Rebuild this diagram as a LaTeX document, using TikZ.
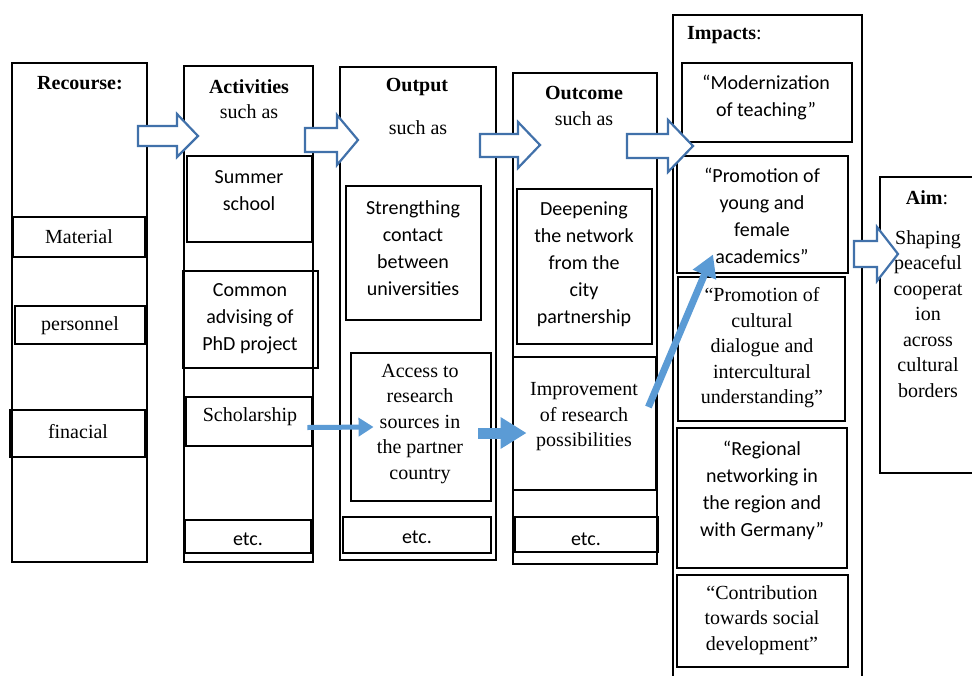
\documentclass[tikz,border=0pt]{standalone}
\usepackage{fontspec}
\setmainfont{Liberation Serif}
\newfontfamily\calibri{Carlito}
\usetikzlibrary{arrows.meta,fit}
\definecolor{arrowedge}{RGB}{65,113,170}
\definecolor{arrowfill}{RGB}{91,155,213}
\begin{document}
\begin{tikzpicture}[x=1pt,y=-1pt,
  colbox/.style={draw, line width=2.3pt, inner sep=0pt},
  inbox/.style={draw, line width=2.9pt, inner sep=0pt},
  serif/.style={font=\fontsize{20}{25.5}\selectfont, align=center, inner sep=0pt},
  sans/.style={font=\calibri\fontsize{20}{27}\selectfont, align=center, inner sep=0pt},
  head/.style={font=\bfseries\fontsize{20}{25.5}\selectfont, inner sep=0pt},
  hollow/.style={draw=arrowedge, line width=2.2pt, fill=white, line join=miter},
  solidarrow/.style={draw=arrowfill},
]
\fill[white] (0,0) rectangle (972,675);
\useasboundingbox (0,0) rectangle (972,675);

% column boxes
\node[colbox, fit={(12,63) (147,562)}] (rec) {};
\node[colbox, fit={(184,66) (313,562)}] (act) {};
\node[colbox, fit={(340,67) (496,560)}] (out) {};
\node[colbox, fit={(513,73) (657,564)}] (otc) {};
\node[colbox, fit={(673,15) (862,690)}] (ipc) {};
\node[colbox, fit={(880,177) (985,473)}] (aim) {};

% inner boxes
\node[inbox, fit={(13,217) (145,257)}] (mat) {};
\node[inbox, fit={(15,306) (145,344)}] (per) {};
\node[inbox, fit={(10,410) (145,457)}] (fin) {};
\node[inbox, fit={(187,156) (312,242)}] (sum) {};
\node[inbox, fit={(183,271) (318,368)}] (com) {};
\node[inbox, fit={(186,397) (312,446)}] (sch) {};
\node[inbox, fit={(185,520) (311,553)}] (aetc) {};
\node[inbox, fit={(346,186) (481,320)}] (str) {};
\node[inbox, fit={(351,353) (491,501)}] (acc) {};
\node[inbox, fit={(343,517) (491,553)}] (oetc) {};
\node[inbox, fit={(517,189) (652,344)}] (dee) {};
\node[inbox, fit={(513,357) (656,490)}] (imp) {};
\node[inbox, fit={(515,517) (658,552)}] (cetc) {};
\node[inbox, fit={(682,63) (852,142)}] (mod) {};
\node[inbox, fit={(677,156) (848,273)}] (pyf) {};
\node[inbox, fit={(678,277) (845,421)}] (pcd) {};
\node[inbox, fit={(677,428) (847,568)}] (reg) {};
\node[inbox, fit={(677,575) (848,667)}] (con) {};

% texts
\node[head] (rec-h) at (80,83) {Recourse:};
\node[serif] (mat-t) at (79,237) {Material};
\node[serif] (per-t) at (80,326) {personnel};
\node[serif] (fin-t) at (78,432) {finacial};

\node[head] (act-h) at (249,87) {Activities};
\node[serif] (act-s) at (249,112) {such as};
\node[sans] (sum-t) at (249,191) {Summer\\school};
\node[sans] (com-t) at (250,319) {Common\\advising of\\PhD project};
\node[serif] (sch-t) at (250,417) {Scholarship};
\node[sans] (aetc-t) at (248,539) {etc.};

\node[head] (out-h) at (417,87) {Output};
\node[serif] (out-s) at (418,128) {such as};
\node[sans] (str-t) at (413,248) {Strengthing\\contact\\between\\universities};
\node[serif] (acc-t) at (420,424) {Access to\\research\\sources in\\the partner\\country};
\node[sans] (oetc-t) at (417,537) {etc.};

\node[head] (otc-h) at (584,93) {Outcome};
\node[serif] (otc-s) at (584,119) {such as};
\node[sans] (dee-t) at (584,264) {Deepening\\the network\\from the\\city\\partnership};
\node[serif] (imp-t) at (584,417) {Improvement\\of research\\possibilities};
\node[sans] (cetc-t) at (586,539) {etc.};

\node[head, anchor=west] (ipc-h) at (687,35) {Impacts\textmd{:}};
\node[sans] (mod-t) at (766,98) {“Modernization\\of teaching”};
\node[sans] (pyf-t) at (762,216) {“Promotion of\\young and\\female\\academics”};
\node[serif] (pcd-t) at (762,348) {“Promotion of\\cultural\\dialogue and\\intercultural\\understanding”};
\node[sans] (reg-t) at (762,490) {“Regional\\networking in\\the region and\\with Germany”};
\node[serif] (con-t) at (762,620) {“Contribution\\towards social\\development”};

\node[head] (aim-h) at (927,198) {Aim\textmd{:}};
\node[serif] (aim-t) at (928,314) {Shaping\\peaceful\\cooperat\\ion\\across\\cultural\\borders};

% hollow block arrows
\draw[hollow] (138,126) -- (177,126) -- (177,114) -- (198,136) -- (177,157) -- (177,146) -- (138,146) -- cycle;
\draw[hollow] (305,128) -- (337,128) -- (337,115) -- (358,140) -- (337,165) -- (337,152) -- (305,152) -- cycle;
\draw[hollow] (480,134) -- (518,134) -- (518,122) -- (540,145) -- (518,168) -- (518,157) -- (480,157) -- cycle;
\draw[hollow] (627,134) -- (668,134) -- (668,120) -- (693,146) -- (668,172) -- (668,158) -- (627,158) -- cycle;
\draw[hollow] (854,241) -- (877,241) -- (877,227) -- (898,254) -- (877,281) -- (877,267) -- (854,267) -- cycle;

% solid arrows
\draw[solidarrow, line width=5pt, -{Triangle[length=15pt,width=18pt]}]
  ([xshift=-6pt,yshift=-6pt]sch.east) -- ([xshift=24pt]acc.west);
\draw[solidarrow, line width=11pt, -{Triangle[length=26pt,width=30pt]}]
  ([xshift=-14pt,yshift=-6pt]acc.east) -- ([xshift=15pt,yshift=-9.5pt]imp.west);
\draw[solidarrow, line width=7pt, -{Triangle[length=22pt,width=24pt]}]
  ([xshift=-9pt,yshift=16.5pt]imp.east) -- ([xshift=-49.5pt,yshift=20pt]pyf.south);
\end{tikzpicture}
\end{document}
